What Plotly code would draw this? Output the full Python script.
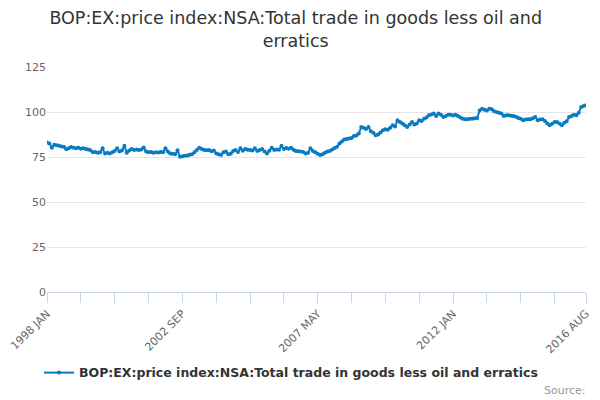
import plotly.graph_objects as go

# Monthly index, 1998 JAN to 2016 AUG
months_count = 224
values = [
    83.1, 82.5, 80.2, 81.8, 81.5, 81.2, 80.9, 80.7, 79.3, 79.8, 80.5,
    80.1, 79.8, 80.2, 79.6, 79.9, 79.4, 79.2, 78.8, 77.6, 77.8,
    77.4, 77.6, 79.8, 77.0, 77.3, 77.0, 77.6, 78.4, 79.8, 78.0,
    78.6, 81.2, 77.4, 78.6, 79.4, 78.9, 79.2, 78.9, 79.1, 80.3,
    78.0, 77.6, 77.8, 77.4, 77.6, 77.5, 77.8, 77.6, 79.8, 78.0,
    77.0, 76.8, 76.5, 78.7, 75.2, 75.4, 75.7, 75.9, 76.2, 76.5,
    77.6, 78.9, 80.1, 79.4, 78.9, 78.7, 78.9, 78.2, 78.6, 77.0,
    76.5, 76.1, 77.6, 78.0, 76.5, 76.8, 78.3, 78.9, 77.8, 79.8,
    78.5, 79.4, 79.0, 78.9, 78.6, 79.8, 78.3, 78.9, 79.4, 78.0,
    77.0, 78.5, 80.1, 78.9, 79.2, 79.0, 81.3, 79.4, 80.0, 79.6,
    80.1, 79.0, 78.3, 78.2, 78.0, 77.8, 77.0, 77.4, 79.8, 78.3,
    77.6, 76.8, 76.1, 76.5, 77.3, 78.0, 78.3, 79.2, 80.0, 80.7,
    82.5, 83.6, 84.7, 85.0, 85.3, 85.5, 86.6, 87.0, 88.0, 91.7,
    91.2, 90.5, 91.7, 89.3, 88.5, 87.1, 87.5, 88.6, 89.9, 90.4,
    90.1, 91.2, 92.6, 92.0, 95.4, 94.5, 93.6, 92.6, 91.7, 93.0,
    94.5, 93.0, 93.6, 95.4, 95.0, 96.3, 97.0, 98.2, 98.6, 99.1,
    97.8, 99.1, 98.5, 97.2, 97.8, 98.5, 98.5, 98.0, 98.5, 97.8,
    97.0, 96.3, 96.0, 96.0, 96.3, 96.2, 96.5, 96.7, 100.9, 101.8,
    101.2, 100.9, 101.8, 101.5, 100.4, 100.0, 99.6, 99.1, 97.8, 98.2,
    98.2, 97.9, 97.8, 97.4, 96.7, 96.2, 95.4, 95.8, 96.0, 96.0,
    96.5, 97.2, 95.4, 95.8, 96.0, 95.0, 93.6, 92.6, 93.5, 94.5,
    94.5, 93.6, 92.6, 94.0, 94.9, 97.2, 97.8, 98.5, 98.2, 99.6,
    102.8, 103.3, 103.7,
]

month_names = ["JAN", "FEB", "MAR", "APR", "MAY", "JUN",
               "JUL", "AUG", "SEP", "OCT", "NOV", "DEC"]
categories = [f"{1998 + k // 12} {month_names[k % 12]}" for k in range(months_count)]

# ticks every 14 months plus one at the last month; only every 4th labelled
tick_idx = list(range(0, 211, 14)) + [months_count - 1]
tick_text = [categories[t] if t in (0, 56, 112, 168, 223) else "" for t in tick_idx]

series_name = "BOP:EX:price index:NSA:Total trade in goods less oil and erratics"
font = "DejaVu Sans, Verdana, sans-serif"
blue = "#0a7bc1"

fig = go.Figure()
fig.add_trace(go.Scatter(
    x=list(range(months_count)),
    y=values,
    text=categories,
    mode="lines+markers",
    name=series_name,
    line=dict(color=blue, width=2),
    marker=dict(color=blue, size=4),
    hovertemplate="%{text}: %{y}<extra></extra>",
))

# the page body adds an 8px margin, so the figure is sized 592x392
fig.update_layout(
    width=592, height=392,
    margin=dict(l=39, r=14, t=59, b=108, autoexpand=False),
    paper_bgcolor="white",
    plot_bgcolor="white",
    font=dict(family=font, color="#666666", size=11),
    title=dict(
        text="BOP:EX:price index:NSA:Total trade in goods less oil and<br>erratics",
        x=0.486, xanchor="center", xref="container",
        y=0.959, yanchor="top", yref="container",
        font=dict(family=font, size=17.5, color="#333333"),
    ),
    showlegend=True,
    legend=dict(
        orientation="h", x=0.478, xanchor="center", xref="container",
        yref="container", y=0.0689, yanchor="middle",
        font=dict(family=font, size=12.5, color="#333333", weight="bold"),
    ),
    xaxis=dict(
        range=[0, months_count - 1], automargin=False,
        tickmode="array", tickvals=tick_idx, ticktext=tick_text,
        tickangle=-45, ticks="outside", ticklen=10, tickcolor="#ccd6eb",
        showline=True, linecolor="#ccd6eb", linewidth=1,
        showgrid=False, zeroline=False,
        tickfont=dict(size=11, color="#666666"),
    ),
    yaxis=dict(
        range=[0, 125], dtick=25, tick0=0, automargin=False,
        showgrid=True, gridcolor="#e6e6e6", gridwidth=1,
        zeroline=False, showline=False,
        ticks="", ticklabelstandoff=0,
        tickfont=dict(size=11, color="#666666"),
    ),
    annotations=[dict(
        text="Source:", xref="paper", yref="paper",
        x=1.0037, y=-0.4356, xanchor="right", yanchor="middle",
        showarrow=False, font=dict(family=font, size=11, color="#999999"),
    )],
)

fig.write_html("out.html")
